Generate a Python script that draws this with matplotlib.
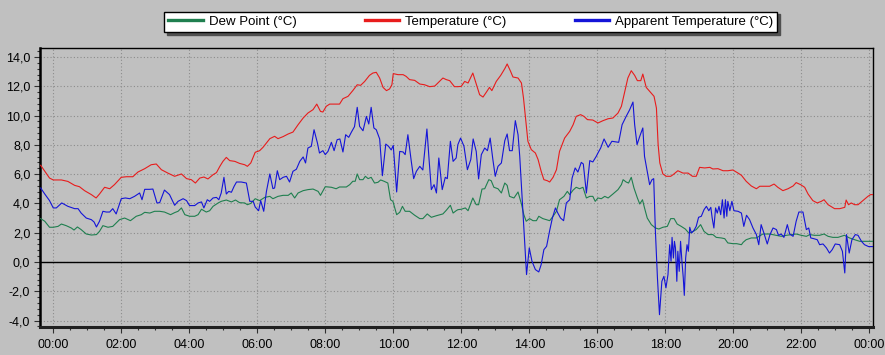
import numpy as np
import matplotlib
matplotlib.use('Agg')
import matplotlib.pyplot as plt
from matplotlib.ticker import MultipleLocator, FuncFormatter

# (hour, value) readings, hour 0 = 00:00, 24 = next 00:00
temp_points = [
    (-0.37, 6.6), (-0.25, 6.2), (-0.11, 5.73), (0.0, 5.6), (0.24, 5.6), (0.43, 5.5), (0.63, 5.23),
    (0.77, 5.14), (0.92, 4.87), (1.12, 4.6), (1.26, 4.37), (1.36, 4.64), (1.51, 5.1), (1.66, 5.0),
    (1.80, 5.28), (2.0, 5.78), (2.15, 5.82), (2.34, 5.82), (2.49, 6.14), (2.69, 6.37), (2.88, 6.64),
    (3.03, 6.69), (3.18, 6.3), (3.37, 6.07), (3.57, 5.85), (3.77, 6.01), (3.92, 5.69), (4.06, 5.62),
    (4.18, 5.39), (4.31, 5.73), (4.43, 5.80), (4.55, 5.67), (4.70, 5.96), (4.80, 6.1), (4.90, 6.53),
    (4.99, 6.87), (5.09, 7.14), (5.19, 6.92), (5.34, 6.87), (5.48, 6.73), (5.63, 6.64), (5.71, 6.53),
    (5.81, 6.76), (5.94, 7.49), (6.07, 7.6), (6.17, 7.83), (6.27, 8.12), (6.37, 8.42), (6.51, 8.58),
    (6.61, 8.42), (6.76, 8.56), (6.91, 8.74), (7.05, 8.87), (7.20, 9.37), (7.35, 9.83), (7.49, 10.17),
    (7.64, 10.4), (7.75, 10.78), (7.86, 10.28), (7.93, 10.24), (8.03, 10.63), (8.13, 10.78),
    (8.28, 10.78), (8.42, 10.78), (8.52, 11.15), (8.67, 11.31), (8.81, 11.7), (8.94, 12.1),
    (9.04, 12.06), (9.16, 12.33), (9.30, 12.74), (9.40, 12.9), (9.50, 12.95), (9.60, 12.56),
    (9.70, 11.92), (9.80, 11.7), (9.89, 11.81), (9.96, 12.1), (10.0, 12.86), (10.14, 12.79),
    (10.29, 12.79), (10.38, 12.67), (10.48, 12.45), (10.63, 12.4), (10.78, 12.15), (10.92, 12.1),
    (11.07, 11.97), (11.22, 12.01), (11.31, 12.22), (11.46, 12.56), (11.56, 12.45), (11.66, 12.38),
    (11.80, 11.97), (11.90, 11.97), (12.0, 11.99), (12.10, 12.33), (12.20, 12.22), (12.34, 12.9),
    (12.44, 12.15), (12.54, 11.42), (12.64, 11.26), (12.74, 11.6), (12.83, 11.92), (12.90, 11.7),
    (13.03, 12.33), (13.16, 12.74), (13.28, 13.2), (13.35, 13.52), (13.45, 13.02), (13.52, 12.63),
    (13.67, 12.56), (13.77, 12.22), (13.83, 11.2), (13.89, 9.83), (13.96, 8.24), (14.06, 7.67),
    (14.18, 7.44), (14.26, 6.99), (14.35, 6.19), (14.43, 5.62), (14.53, 5.55), (14.60, 5.46),
    (14.70, 5.78), (14.80, 6.3), (14.89, 7.55), (15.04, 8.46), (15.19, 8.92), (15.29, 9.37),
    (15.38, 9.94), (15.51, 10.06), (15.61, 9.94), (15.71, 9.72), (15.87, 9.69), (16.02, 9.49),
    (16.17, 9.65), (16.32, 9.78), (16.46, 9.83), (16.61, 10.17), (16.71, 10.63), (16.81, 11.65),
    (16.90, 12.56), (17.0, 13.06), (17.10, 12.74), (17.18, 12.38), (17.28, 12.38), (17.34, 12.83),
    (17.44, 11.92), (17.54, 11.65), (17.67, 11.31), (17.74, 10.51), (17.79, 8.01), (17.84, 6.76),
    (17.93, 6.01), (18.03, 5.85), (18.16, 5.85), (18.23, 5.96), (18.37, 6.23), (18.52, 6.07),
    (18.67, 6.07), (18.80, 5.85), (18.91, 5.85), (19.01, 6.46), (19.16, 6.42), (19.31, 6.46),
    (19.40, 6.35), (19.55, 6.37), (19.70, 6.23), (19.84, 6.23), (19.99, 6.28), (20.14, 6.07),
    (20.24, 5.92), (20.38, 5.51), (20.53, 5.19), (20.68, 5.0), (20.78, 5.17), (20.92, 5.17),
    (21.07, 5.17), (21.20, 5.32), (21.31, 5.1), (21.46, 4.87), (21.61, 5.0), (21.76, 5.19),
    (21.85, 5.42), (21.98, 5.28), (22.10, 5.1), (22.20, 4.64), (22.34, 4.19), (22.47, 4.03),
    (22.59, 4.14), (22.67, 4.25), (22.79, 3.91), (22.98, 3.64), (23.13, 3.64), (23.28, 3.73),
    (23.32, 4.23), (23.39, 3.91), (23.47, 4.03), (23.57, 3.91), (23.67, 3.91), (23.81, 4.19),
    (23.96, 4.48), (24.04, 4.6), (24.12, 4.6),
]

dew_points = [
    (-0.37, 2.96), (-0.25, 2.78), (-0.11, 2.37), (0.0, 2.37), (0.14, 2.43), (0.24, 2.59), (0.38, 2.48),
    (0.53, 2.32), (0.61, 2.18), (0.71, 2.39), (0.82, 2.21), (0.97, 1.91), (1.12, 1.84), (1.27, 1.87),
    (1.36, 2.09), (1.46, 2.48), (1.61, 2.37), (1.75, 2.43), (1.95, 2.89), (2.10, 3.0), (2.27, 2.82),
    (2.44, 3.12), (2.59, 3.23), (2.69, 3.39), (2.84, 3.34), (2.98, 3.46), (3.13, 3.46), (3.27, 3.41),
    (3.45, 3.23), (3.57, 3.37), (3.67, 3.46), (3.77, 3.69), (3.87, 3.23), (4.01, 3.12), (4.16, 3.12),
    (4.26, 3.23), (4.36, 3.6), (4.50, 3.41), (4.60, 3.5), (4.70, 3.8), (4.85, 4.03), (4.94, 4.14),
    (5.09, 4.23), (5.24, 4.10), (5.36, 4.23), (5.48, 4.05), (5.63, 4.03), (5.71, 3.91), (5.81, 4.0),
    (5.94, 4.32), (6.07, 4.19), (6.22, 4.41), (6.37, 4.48), (6.46, 4.32), (6.61, 4.48), (6.76, 4.55),
    (6.91, 4.55), (7.0, 4.71), (7.10, 4.37), (7.20, 4.71), (7.35, 4.87), (7.49, 4.94), (7.64, 4.98),
    (7.79, 4.82), (7.86, 4.55), (8.0, 5.14), (8.18, 5.1), (8.32, 5.0), (8.42, 5.12), (8.62, 5.12),
    (8.72, 5.28), (8.81, 5.51), (8.88, 5.51), (8.94, 6.01), (9.01, 5.62), (9.11, 5.62), (9.18, 5.85),
    (9.26, 5.69), (9.35, 5.78), (9.45, 5.39), (9.55, 5.44), (9.63, 5.6), (9.73, 5.51), (9.84, 5.39),
    (9.92, 4.25), (9.99, 4.14), (10.10, 3.23), (10.19, 3.39), (10.27, 3.8), (10.35, 3.46),
    (10.48, 3.46), (10.63, 3.19), (10.78, 2.96), (10.87, 2.96), (11.0, 3.28), (11.12, 3.05),
    (11.27, 3.16), (11.46, 3.28), (11.56, 3.53), (11.68, 3.87), (11.76, 3.34), (11.85, 3.5),
    (11.90, 3.57), (12.0, 3.6), (12.12, 3.69), (12.20, 3.5), (12.34, 4.37), (12.44, 3.91),
    (12.51, 3.91), (12.61, 4.98), (12.69, 5.0), (12.81, 5.62), (12.88, 5.55), (12.96, 5.1),
    (13.08, 5.0), (13.18, 4.71), (13.28, 5.39), (13.35, 5.23), (13.42, 4.48), (13.55, 4.37),
    (13.67, 4.78), (13.77, 3.96), (13.84, 3.23), (13.91, 2.78), (14.01, 2.96), (14.11, 2.82),
    (14.21, 2.82), (14.28, 3.12), (14.40, 2.96), (14.50, 2.89), (14.60, 2.82), (14.70, 3.12),
    (14.80, 3.46), (14.89, 4.25), (15.02, 4.48), (15.12, 4.82), (15.19, 4.6), (15.29, 4.91),
    (15.38, 5.1), (15.48, 5.0), (15.58, 5.1), (15.68, 4.37), (15.78, 4.48), (15.87, 4.48),
    (15.94, 4.14), (16.02, 4.37), (16.12, 4.32), (16.22, 4.48), (16.32, 4.37), (16.46, 4.64),
    (16.61, 4.94), (16.71, 5.28), (16.76, 5.62), (16.85, 5.46), (16.92, 5.39), (17.0, 5.78),
    (17.08, 5.05), (17.18, 4.37), (17.25, 3.96), (17.33, 4.25), (17.39, 3.69), (17.47, 3.0),
    (17.59, 2.55), (17.71, 2.32), (17.81, 2.25), (17.93, 2.37), (18.06, 2.43), (18.16, 2.96),
    (18.26, 2.96), (18.35, 2.59), (18.47, 2.43), (18.59, 2.25), (18.69, 1.98), (18.79, 2.05),
    (18.91, 2.21), (19.04, 2.55), (19.14, 2.09), (19.26, 1.87), (19.40, 1.87), (19.50, 1.68),
    (19.65, 1.64), (19.75, 1.59), (19.84, 1.3), (19.99, 1.25), (20.10, 1.25), (20.24, 1.18),
    (20.29, 1.34), (20.38, 1.52), (20.53, 1.64), (20.68, 1.64), (20.87, 1.91), (21.07, 1.91),
    (21.27, 1.82), (21.41, 1.75), (21.56, 1.82), (21.71, 1.87), (21.85, 1.91), (22.0, 1.82),
    (22.15, 1.75), (22.25, 1.87), (22.39, 1.82), (22.54, 1.82), (22.67, 1.91), (22.79, 1.75),
    (22.93, 1.68), (23.08, 1.68), (23.27, 1.82), (23.42, 1.64), (23.57, 1.52), (23.72, 1.41),
    (23.86, 1.41), (24.12, 1.41),
]

apparent_points = [
    (-0.37, 5.05), (-0.25, 4.64), (-0.11, 4.19), (0.0, 3.69), (0.09, 3.69), (0.25, 4.03), (0.43, 3.8),
    (0.63, 3.64), (0.73, 3.64), (0.82, 3.34), (0.97, 3.0), (1.12, 2.89), (1.20, 2.73), (1.27, 2.39),
    (1.36, 2.78), (1.46, 3.46), (1.56, 3.41), (1.66, 3.41), (1.75, 3.64), (1.85, 3.28), (2.0, 4.32),
    (2.12, 4.37), (2.25, 4.32), (2.39, 4.48), (2.54, 4.71), (2.61, 4.25), (2.69, 4.96), (2.83, 4.96),
    (2.93, 4.98), (3.05, 4.03), (3.13, 4.05), (3.27, 4.91), (3.42, 4.6), (3.57, 3.87), (3.67, 4.14),
    (3.82, 4.32), (3.92, 4.19), (4.01, 3.85), (4.16, 3.85), (4.26, 4.03), (4.36, 4.10), (4.43, 3.69),
    (4.53, 4.25), (4.60, 4.14), (4.70, 4.37), (4.80, 4.41), (4.87, 4.25), (4.94, 4.71), (5.02, 5.78),
    (5.09, 4.64), (5.16, 4.82), (5.24, 4.76), (5.32, 5.17), (5.39, 5.46), (5.53, 5.46), (5.68, 5.39),
    (5.78, 4.14), (5.88, 4.14), (5.94, 3.75), (6.04, 3.5), (6.10, 4.19), (6.19, 3.46), (6.27, 4.82),
    (6.37, 6.01), (6.46, 5.01), (6.51, 5.05), (6.59, 6.23), (6.66, 5.62), (6.76, 5.78), (6.86, 5.85),
    (6.95, 5.46), (7.05, 6.19), (7.15, 6.33), (7.25, 6.87), (7.35, 7.17), (7.42, 6.76), (7.49, 7.78),
    (7.59, 7.9), (7.67, 9.03), (7.77, 8.12), (7.83, 7.44), (7.93, 7.6), (8.0, 7.33), (8.08, 7.55),
    (8.18, 8.17), (8.26, 7.6), (8.35, 8.35), (8.43, 8.4), (8.52, 7.51), (8.60, 8.69), (8.69, 8.51),
    (8.77, 8.87), (8.86, 9.24), (8.94, 10.56), (9.01, 9.26), (9.11, 8.96), (9.21, 9.94), (9.28, 9.42),
    (9.35, 10.56), (9.43, 9.15), (9.50, 9.03), (9.60, 8.4), (9.68, 5.89), (9.78, 8.05), (9.86, 7.9),
    (9.94, 7.65), (10.0, 7.96), (10.10, 4.78), (10.19, 7.55), (10.29, 7.51), (10.35, 7.33),
    (10.43, 8.69), (10.53, 6.87), (10.60, 5.69), (10.68, 6.19), (10.78, 6.53), (10.87, 6.28),
    (10.99, 9.08), (11.05, 7.1), (11.12, 4.94), (11.20, 5.28), (11.27, 4.71), (11.34, 7.1),
    (11.44, 4.94), (11.53, 5.78), (11.59, 5.69), (11.68, 8.24), (11.76, 6.87), (11.85, 7.1),
    (11.90, 8.01), (11.98, 8.46), (12.08, 7.9), (12.18, 6.3), (12.28, 6.99), (12.35, 8.4),
    (12.44, 7.55), (12.51, 5.67), (12.59, 7.33), (12.69, 7.78), (12.77, 7.6), (12.85, 8.46),
    (12.93, 6.99), (13.0, 5.85), (13.08, 6.53), (13.18, 6.76), (13.28, 8.28), (13.35, 8.74),
    (13.42, 7.6), (13.50, 7.6), (13.59, 9.65), (13.67, 8.69), (13.72, 7.21), (13.79, 4.37),
    (13.86, 1.64), (13.92, -0.86), (14.0, 0.96), (14.08, 0.05), (14.18, -0.52), (14.28, -0.68),
    (14.35, -0.18), (14.43, 0.84), (14.51, 1.07), (14.60, 2.14), (14.68, 3.0), (14.77, 3.69),
    (14.84, 3.34), (14.92, 3.0), (15.01, 2.82), (15.09, 4.03), (15.19, 4.25), (15.26, 5.73),
    (15.35, 6.42), (15.43, 6.14), (15.53, 6.8), (15.59, 6.69), (15.68, 4.71), (15.78, 6.92),
    (15.87, 6.83), (15.97, 7.21), (16.02, 7.44), (16.10, 7.78), (16.20, 8.4), (16.32, 7.83),
    (16.43, 8.24), (16.56, 8.19), (16.63, 8.17), (16.73, 9.37), (16.85, 9.94), (16.95, 10.38),
    (17.05, 10.92), (17.10, 9.37), (17.17, 8.01), (17.25, 8.58), (17.34, 9.15), (17.39, 7.21),
    (17.47, 6.19), (17.54, 5.28), (17.61, 5.62), (17.66, 5.69), (17.71, 2.09), (17.77, -1.09),
    (17.83, -3.6), (17.90, -1.32), (17.96, -0.98), (18.02, -1.77), (18.08, -0.86), (18.13, 1.18),
    (18.17, 0.05), (18.20, 1.68), (18.24, 0.27), (18.27, 1.41), (18.30, 0.96), (18.34, -1.32),
    (18.37, 0.73), (18.41, -0.64), (18.45, 1.41), (18.49, 0.05), (18.53, -1.09), (18.56, -2.28),
    (18.60, 0.27), (18.64, 1.18), (18.68, 0.73), (18.72, 2.37), (18.77, 1.98), (18.84, 2.14),
    (18.91, 2.43), (18.98, 3.05), (19.06, 3.12), (19.14, 3.57), (19.21, 3.8), (19.28, 3.5),
    (19.34, 3.73), (19.38, 3.0), (19.43, 2.32), (19.48, 3.69), (19.53, 3.34), (19.58, 3.8),
    (19.63, 3.23), (19.68, 4.25), (19.73, 3.0), (19.77, 4.25), (19.81, 3.12), (19.84, 4.14),
    (19.90, 3.5), (19.96, 4.14), (20.02, 3.5), (20.14, 3.46), (20.24, 3.34), (20.31, 2.43),
    (20.39, 3.19), (20.48, 2.89), (20.58, 2.32), (20.68, 1.87), (20.75, 1.18), (20.82, 2.55),
    (20.90, 1.98), (21.0, 1.23), (21.08, 1.87), (21.17, 2.32), (21.27, 2.21), (21.33, 1.82),
    (21.41, 1.91), (21.49, 1.68), (21.59, 2.55), (21.66, 1.91), (21.76, 1.75), (21.85, 2.78),
    (21.93, 3.41), (22.05, 3.41), (22.15, 2.21), (22.22, 2.32), (22.28, 1.64), (22.37, 1.59),
    (22.47, 1.52), (22.54, 1.18), (22.64, 1.23), (22.74, 0.96), (22.83, 0.61), (22.91, 0.84),
    (23.0, 1.23), (23.13, 1.18), (23.21, 0.73), (23.28, -0.75), (23.33, 1.87), (23.41, 0.61),
    (23.49, 1.52), (23.59, 1.87), (23.67, 1.82), (23.77, 1.41), (23.86, 1.18), (23.98, 1.05),
    (24.12, 1.05),
]

series_labels = ['Dew Point (°C)', 'Temperature (°C)', 'Apparent Temperature (°C)']
series_colors = ['#1f7f4f', '#e81c1c', '#1414d8']
hour_ticks = list(range(0, 25, 2))
hour_labels = ['%02d:00' % (h % 24) for h in hour_ticks]

BG = '#c0c0c0'
plt.rcParams['font.family'] = ['Liberation Sans', 'DejaVu Sans']

fig = plt.figure(figsize=(8.85, 3.55), dpi=100, facecolor=BG)
ax = fig.add_axes([40 / 885, 28 / 355, 833 / 885, 279 / 355], facecolor=BG)

handles = []
for pts, label, color in zip([dew_points, temp_points, apparent_points], series_labels, series_colors):
    h, v = zip(*pts)
    line, = ax.plot(h, v, color=color, lw=0.8, label=label, zorder=3)
    handles.append(line)

ax.axhline(0, color='black', lw=1.0, zorder=2)

ax.set_xlim(-0.39, 24.11)
ax.set_ylim(-4.44, 14.61)

ax.set_xticks(hour_ticks)
ax.set_xticklabels(hour_labels)
ax.xaxis.set_minor_locator(MultipleLocator(0.5))
ax.set_yticks(np.arange(-4, 15, 2))
ax.yaxis.set_minor_locator(MultipleLocator(0.4))
ax.yaxis.set_major_formatter(FuncFormatter(lambda v, p: ('%.1f' % v).replace('.', ',')))

ax.tick_params(which='major', length=4, width=0.8, color='#303030', labelsize=9, pad=3)
ax.tick_params(which='minor', length=2.5, width=0.8, color='#303030')
ax.tick_params(axis='x', which='major', pad=5)

ax.grid(True, which='major', color='#8c8c8c', lw=0.8, linestyle=(0, (1, 2)), zorder=1)
ax.set_axisbelow(True)

for side in ['top', 'right']:
    ax.spines[side].set_linewidth(1.0)
    ax.spines[side].set_color('black')
ax.spines['left'].set_linewidth(1.8)
ax.spines['bottom'].set_linewidth(2.2)
ax.spines['bottom'].set_color('#202020')

leg = fig.legend(handles=[plt.Line2D([], [], color=c, lw=2.4) for c in series_colors],
                 labels=series_labels, loc='upper center', bbox_to_anchor=(0.532, 0.967),
                 ncol=3, fontsize=9.5, frameon=True, fancybox=False, framealpha=1,
                 edgecolor='black', facecolor='white', shadow={'color': '#505050', 'alpha': 1},
                 handlelength=2.6, handletextpad=0.45, columnspacing=5.2,
                 borderpad=0.3, borderaxespad=0)
leg.get_frame().set_linewidth(1.0)

fig.savefig('out.png', dpi=100, facecolor=BG)
